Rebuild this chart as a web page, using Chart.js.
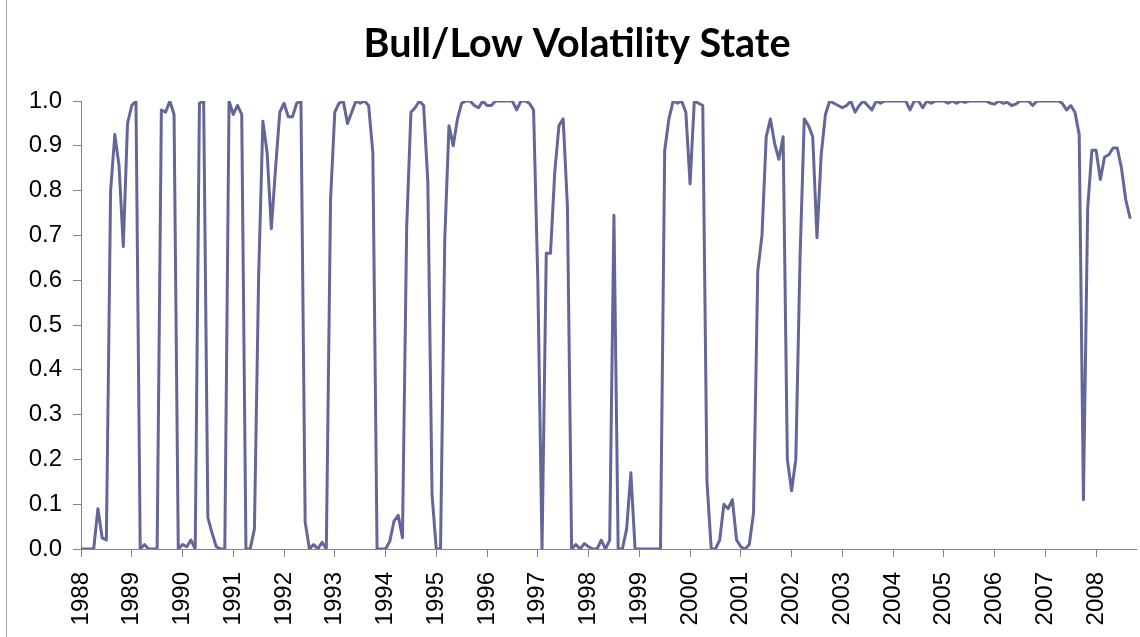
<!DOCTYPE html>
<html lang="en">
<head>
<meta charset="utf-8">
<title>Bull/Low Volatility State</title>
<script src="https://cdn.jsdelivr.net/npm/chart.js@4.4.1/dist/chart.umd.min.js"></script>
<style>
    html, body { margin: 0; padding: 0; background: #ffffff; }
    #wrap { width: 1140px; height: 637px; }
</style>
</head>
<body>
<div id="wrap">
    <canvas id="stateChart" width="1140" height="637"></canvas>
</div>
<script>
// Monthly probabilities, Jan 1988 - Sep 2008 (one row per year)
const bullLowVol = [
    0, 0, 0, 0, 0.09, 0.025, 0.02, 0.80, 0.925, 0.855, 0.675, 0.95,
    0.99, 1.0, 0.0, 0.01, 0, 0, 0, 0.98, 0.975, 1.0, 0.97, 0.0,
    0.01, 0.005, 0.02, 0.0, 0.995, 1.0, 0.07, 0.035, 0.005, 0, 0, 1.0,
    0.97, 0.99, 0.97, 0, 0, 0.045, 0.61, 0.955, 0.885, 0.715, 0.85, 0.975,
    0.995, 0.965, 0.965, 0.995, 1.0, 0.06, 0, 0.01, 0, 0.015, 0, 0.78,
    0.975, 0.995, 1.0, 0.95, 0.975, 1.0, 0.995, 1.0, 0.99, 0.885, 0, 0,
    0, 0.017, 0.062, 0.075, 0.025, 0.72, 0.975, 0.985, 1.0, 0.99, 0.82, 0.12,
    0, 0, 0.69, 0.945, 0.90, 0.96, 0.995, 1.0, 1.0, 0.99, 0.985, 1.0,
    0.99, 0.99, 1.0, 1.0, 1.0, 1.0, 1.0, 0.98, 1.0, 1.0, 0.995, 0.98,
    0.6, 0, 0.66, 0.66, 0.84, 0.945, 0.96, 0.765, 0, 0.01, 0, 0.012,
    0.005, 0, 0, 0.02, 0, 0.02, 0.745, 0, 0, 0.045, 0.17, 0,
    0, 0, 0, 0, 0, 0, 0.89, 0.96, 1.0, 0.995, 1.0, 0.975,
    0.815, 1.0, 0.995, 0.99, 0.15, 0, 0, 0.02, 0.10, 0.09, 0.11, 0.02,
    0.005, 0, 0.01, 0.08, 0.62, 0.70, 0.92, 0.96, 0.905, 0.87, 0.92, 0.2,
    0.13, 0.2, 0.65, 0.96, 0.945, 0.92, 0.695, 0.88, 0.97, 1.0, 0.995, 0.99,
    0.985, 0.99, 1.0, 0.975, 0.99, 1.0, 0.99, 0.98, 1.0, 0.995, 1.0, 1.0,
    1.0, 1.0, 1.0, 1.0, 0.98, 1.0, 1.0, 0.985, 1.0, 0.995, 1.0, 1.0,
    1.0, 0.995, 1.0, 0.995, 1.0, 0.997, 1.0, 1.0, 1.0, 1.0, 1.0, 0.995,
    0.993, 1.0, 0.995, 0.997, 0.99, 0.993, 1.0, 1.0, 1.0, 0.99, 1.0, 1.0,
    1.0, 1.0, 1.0, 1.0, 0.995, 0.98, 0.99, 0.975, 0.925, 0.11, 0.76, 0.89,
    0.89, 0.825, 0.875, 0.88, 0.895, 0.895, 0.85, 0.78, 0.74
];

// Year labels, one every 12 months
const tickYears = ['1988', '1989', '1990', '1991', '1992', '1993', '1994', '1995', '1996', '1997', '1998',
    '1999', '2000', '2001', '2002', '2003', '2004', '2005', '2006', '2007', '2008'];

const yTicks = [0, 0.1, 0.2, 0.3, 0.4, 0.5, 0.6, 0.7, 0.8, 0.9, 1.0];

document.addEventListener('DOMContentLoaded', () => {
    const axisGrey = '#868686';
    const lineColour = '#646699';
    const tickFont = { family: '"Liberation Sans", Arial, sans-serif', size: 24 };

    // thin outer frame on the left like the Excel chart area
    const framePlugin = {
        id: 'frame',
        afterDraw(chart) {
            const ctx = chart.ctx;
            ctx.save();
            ctx.strokeStyle = '#a6a6a6';
            ctx.lineWidth = 1;
            ctx.beginPath();
            ctx.moveTo(6.5, 0);
            ctx.lineTo(6.5, chart.height);
            ctx.stroke();
            ctx.restore();
        }
    };

    const ctx = document.getElementById('stateChart').getContext('2d');
    new Chart(ctx, {
        type: 'line',
        data: {
            datasets: [{
                label: 'Bull/Low Volatility State',
                data: bullLowVol.map((v, i) => ({ x: i, y: v })),
                borderColor: lineColour,
                borderWidth: 3,
                borderJoinStyle: 'round',
                borderCapStyle: 'round',
                pointRadius: 0,
                tension: 0,
                fill: false
            }]
        },
        plugins: [framePlugin],
        options: {
            responsive: false,
            animation: false,
            devicePixelRatio: 1,
            // left padding keeps the title centred over the plot like Excel does
            layout: { padding: { left: 16, right: 2, top: 0, bottom: 0 } },
            plugins: {
                legend: { display: false },
                tooltip: { enabled: false },
                title: {
                    display: true,
                    text: 'Bull/Low Volatility State',
                    color: '#000000',
                    font: { family: 'Lato, "Open Sans", sans-serif', size: 39.5, weight: 'bold', lineHeight: 1.2 },
                    padding: { top: 21, bottom: 32.6 }
                }
            },
            scales: {
                x: {
                    type: 'linear',
                    min: 0,
                    max: 249.5,
                    afterFit: (scale) => { scale.height = 88; },
                    afterBuildTicks: (axis) => {
                        axis.ticks = tickYears.map((y, k) => ({ value: k * 12 }));
                    },
                    ticks: {
                        autoSkip: false,
                        minRotation: 90,
                        maxRotation: 90,
                        padding: 15,
                        color: '#000000',
                        font: tickFont,
                        callback: (v) => tickYears[Math.round(v / 12)]
                    },
                    grid: {
                        display: true,
                        drawOnChartArea: false,
                        drawTicks: true,
                        tickLength: 8,
                        color: axisGrey
                    },
                    border: { display: true, color: axisGrey, width: 1 }
                },
                y: {
                    min: 0,
                    max: 1,
                    afterFit: (scale) => { scale.width = 65; },
                    afterBuildTicks: (axis) => {
                        axis.ticks = yTicks.map(v => ({ value: v }));
                    },
                    ticks: {
                        padding: 11,
                        color: '#000000',
                        font: tickFont,
                        callback: (v) => Number(v).toFixed(1)
                    },
                    grid: {
                        display: true,
                        drawOnChartArea: false,
                        drawTicks: true,
                        tickLength: 8,
                        color: axisGrey
                    },
                    border: { display: true, color: axisGrey, width: 1 }
                }
            }
        }
    });
});
</script>
</body>
</html>
